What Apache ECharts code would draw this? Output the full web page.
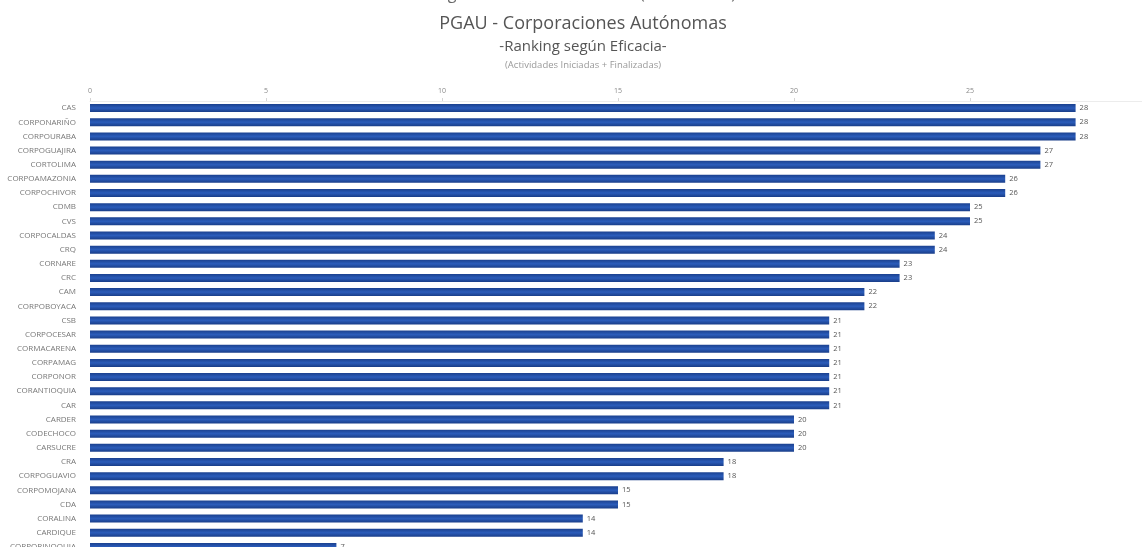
<!DOCTYPE html>
<html>
<head>
<meta charset="utf-8">
<script src="https://cdn.jsdelivr.net/npm/echarts@6/dist/echarts.min.js"></script>
<style>
html,body{margin:0;padding:0;background:#fff;}
#c{width:1142px;height:547px;}
</style>
</head>
<body>
<div id="c"></div>
<script>
const categories = [
  "CAS","CORPONARIÑO","CORPOURABA","CORPOGUAJIRA","CORTOLIMA","CORPOAMAZONIA",
  "CORPOCHIVOR","CDMB","CVS","CORPOCALDAS","CRQ","CORNARE","CRC","CAM",
  "CORPOBOYACA","CSB","CORPOCESAR","CORMACARENA","CORPAMAG","CORPONOR",
  "CORANTIOQUIA","CAR","CARDER","CODECHOCO","CARSUCRE","CRA","CORPOGUAVIO",
  "CORPOMOJANA","CDA","CORALINA","CARDIQUE","CORPORINOQUIA"
];
const values = [
  28,28,28,27,27,26,26,25,25,24,24,23,23,22,22,21,21,21,21,21,21,21,
  20,20,20,18,18,15,15,14,14,7
];
const axisTicks = [0,5,10,15,20,25,30];

const chart = echarts.init(document.getElementById('c'), null, {renderer:'canvas'});
chart.setOption({
  animation:false,
  backgroundColor:'#ffffff',
  graphic:[
    {type:'text', x:583, y:-14, style:{text:'Seguimiento Plan de Acción (2012 - 2015)', font:'16px "Open Sans", sans-serif', fill:'#666', textAlign:'center'}},
    {type:'text', x:583, y:15, style:{text:'PGAU - Corporaciones Autónomas', font:'18px "Open Sans", sans-serif', fill:'#555', textAlign:'center'}},
    {type:'text', x:583, y:39, style:{text:'-Ranking según Eficacia-', font:'15px "Open Sans", sans-serif', fill:'#555', textAlign:'center'}},
    {type:'text', x:583, y:60, style:{text:'(Actividades Iniciadas + Finalizadas)', font:'9.5px "Open Sans", sans-serif', fill:'#999', textAlign:'center'}}
  ],
  grid:{left:90, top:101, width:1056, height:453, containLabel:false, outerBoundsMode:'none'},
  xAxis:{
    type:'value', position:'top', min:axisTicks[0], max:axisTicks[axisTicks.length-1], interval:5,
    axisLine:{show:true, lineStyle:{color:'#ececec'}},
    axisTick:{show:true, length:3, lineStyle:{color:'#d5d5d5'}},
    splitLine:{show:false},
    axisLabel:{fontSize:7, color:'#888', margin:7, fontFamily:'"Open Sans", sans-serif'}
  },
  yAxis:{
    type:'category', data:categories, inverse:true,
    axisLine:{show:false}, axisTick:{show:false},
    axisLabel:{fontSize:8, color:'#777', margin:14, fontFamily:'"Open Sans", sans-serif'}
  },
  series:[{
    type:'bar', data:values, barWidth:8,
    itemStyle:{
      color:new echarts.graphic.LinearGradient(0,0,0,1,[
        {offset:0,color:'#1b418f'},{offset:0.5,color:'#2b5cba'},{offset:1,color:'#193d88'}
      ])
    },
    label:{show:true, position:'right', distance:4, fontSize:7.5, color:'#555', fontFamily:'"Open Sans", sans-serif'}
  }]
});
</script>
</body>
</html>
